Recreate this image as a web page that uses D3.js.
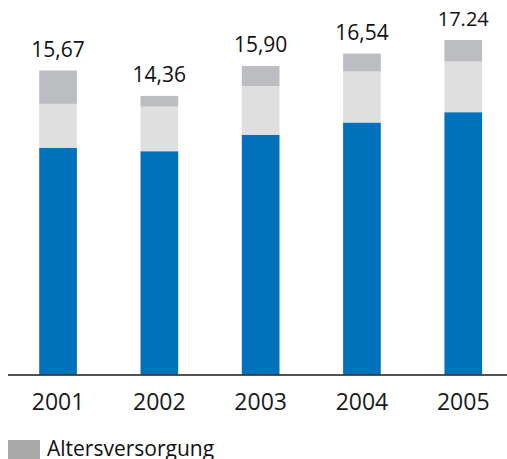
<!DOCTYPE html>
<html>
<head>
<meta charset="utf-8">
<script src="https://cdn.jsdelivr.net/npm/d3@7"></script>
<style>
  html, body { margin: 0; padding: 0; background: #fff; }
  svg { display: block; }
</style>
</head>
<body>
<svg id="chart" width="507" height="459"></svg>
<script>
// Years on the x axis
const years = ["2001", "2002", "2003", "2004", "2005"];
// Stacked segments, bottom to top
const basis = [11.69, 11.51, 12.36, 12.99, 13.52];
const zusatz = [2.26, 2.30, 2.51, 2.63, 2.61];
const alters = [1.72, 0.55, 1.03, 0.92, 1.11];
// Totals printed above each bar
const totalLabels = ["15,67", "14,36", "15,90", "16,54", "17.24"];
// Legend entry
const legendLabels = ["Altersversorgung"];

const svg = d3.select("#chart");
const font = "'Open Sans', 'Noto Sans', sans-serif";

const keys = ["basis", "zusatz", "alters"];
const colors = { basis: "#0072bc", zusatz: "#dfdfdf", alters: "#bcbdc1" };

const rows = years.map((y, i) => ({ year: y, basis: basis[i], zusatz: zusatz[i], alters: alters[i], label: totalLabels[i] }));
const stacked = d3.stack().keys(keys)(rows);

const x = d3.scaleBand().domain(years).range([7.4, 513.9]).paddingInner(0.628).paddingOuter(0.314);
const y = d3.scaleLinear().domain([0, 18]).range([374.5, 374.5 - 18 * 19.4]);

// Bars
svg.append("g").selectAll("g").data(stacked).join("g")
  .attr("fill", d => colors[d.key])
  .selectAll("rect").data(d => d).join("rect")
  .attr("x", d => x(d.data.year))
  .attr("width", x.bandwidth())
  .attr("y", d => y(d[1]))
  .attr("height", d => y(d[0]) - y(d[1]));

// Totals above bars
const topLayer = stacked[stacked.length - 1];
svg.append("g").selectAll("text").data(topLayer).join("text")
  .attr("x", d => x(d.data.year) + x.bandwidth() / 2)
  .attr("y", d => y(d[1]) - 14)
  .attr("text-anchor", "middle")
  .attr("font-family", font)
  .attr("font-size", (d, i) => i === 4 ? 20 : 21)
  .attr("fill", "#111")
  .text(d => d.data.label);

// Baseline
svg.append("line")
  .attr("x1", 8).attr("x2", 507)
  .attr("y1", 375).attr("y2", 375)
  .attr("stroke", "#1a1a1a").attr("stroke-width", 1.6);

// Year labels
const xAxis = d3.axisBottom(x).tickSize(0).tickPadding(0);
const gx = svg.append("g").attr("transform", "translate(0,375)").call(xAxis);
gx.select(".domain").remove();
gx.selectAll("text")
  .attr("y", 35)
  .attr("dy", null)
  .attr("font-family", font)
  .attr("font-size", 23)
  .attr("fill", "#1a1a1a");

// Legend
const lg = svg.append("g").attr("transform", "translate(8,440)");
lg.append("rect").attr("width", 32).attr("height", 22).attr("fill", "#a8a8a8");
lg.append("text").attr("x", 39).attr("y", 16)
  .attr("font-family", font).attr("font-size", 21).attr("fill", "#111")
  .text(legendLabels[0]);
</script>
</body>
</html>
